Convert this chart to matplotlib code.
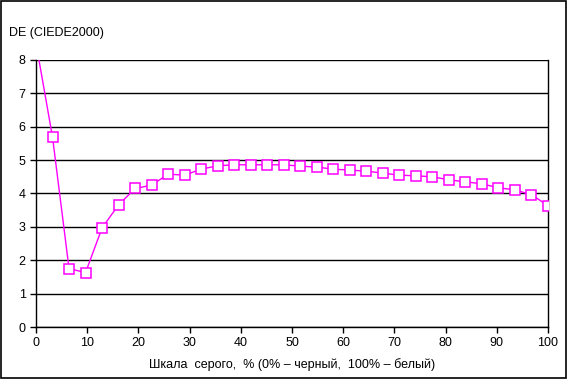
import matplotlib.pyplot as plt
import numpy as np

plt.rcParams['font.family'] = ['Liberation Sans', 'DejaVu Sans']

# данные: шкала серого (32 шага) и DE (CIEDE2000)
gray = np.linspace(0, 100, 32)
de = [8.5, 5.69, 1.75, 1.63, 2.97, 3.66, 4.15, 4.25, 4.58, 4.55,
      4.73, 4.83, 4.86, 4.86, 4.86, 4.86, 4.82, 4.79, 4.73, 4.70,
      4.67, 4.61, 4.55, 4.53, 4.50, 4.41, 4.35, 4.29, 4.17, 4.11,
      3.96, 3.64]
yticks = list(range(0, 9))
xticks = list(range(0, 101, 10))

fig = plt.figure(figsize=(5.68, 3.79), dpi=100)
ax = fig.add_axes([0.0634, 0.1372, 0.9014, 0.7045])

ax.plot(gray, de, color='#FF00FF', lw=1, marker='s', ms=6.5,
        mfc='white', mec='#FF00FF', mew=1.1, zorder=3)

ax.set_xlim(0, 100)
ax.set_ylim(0, 8)
ax.set_xticks(xticks)
ax.set_yticks(yticks)
ax.yaxis.grid(True, color='black', lw=1)
ax.set_axisbelow(True)

ax.spines['top'].set_visible(False)
for s in ['left', 'right', 'bottom']:
    ax.spines[s].set_linewidth(1)
    ax.spines[s].set_color('black')

ax.tick_params(direction='out', length=4, width=1, labelsize=9, colors='black')
ax.set_xlabel('Шкала  серого,  % (0% – черный,  100% – белый)',
              fontsize=9, labelpad=6)
fig.text(0.016, 0.912, 'DE (CIEDE2000)', fontsize=9, ha='left', va='center')

# рамка вокруг рисунка
fig.patches.append(plt.Rectangle((0.002, 0.003), 0.995, 0.994, transform=fig.transFigure,
                                 fill=False, ec='black', lw=1.2))

fig.savefig('out.png', dpi=100)
